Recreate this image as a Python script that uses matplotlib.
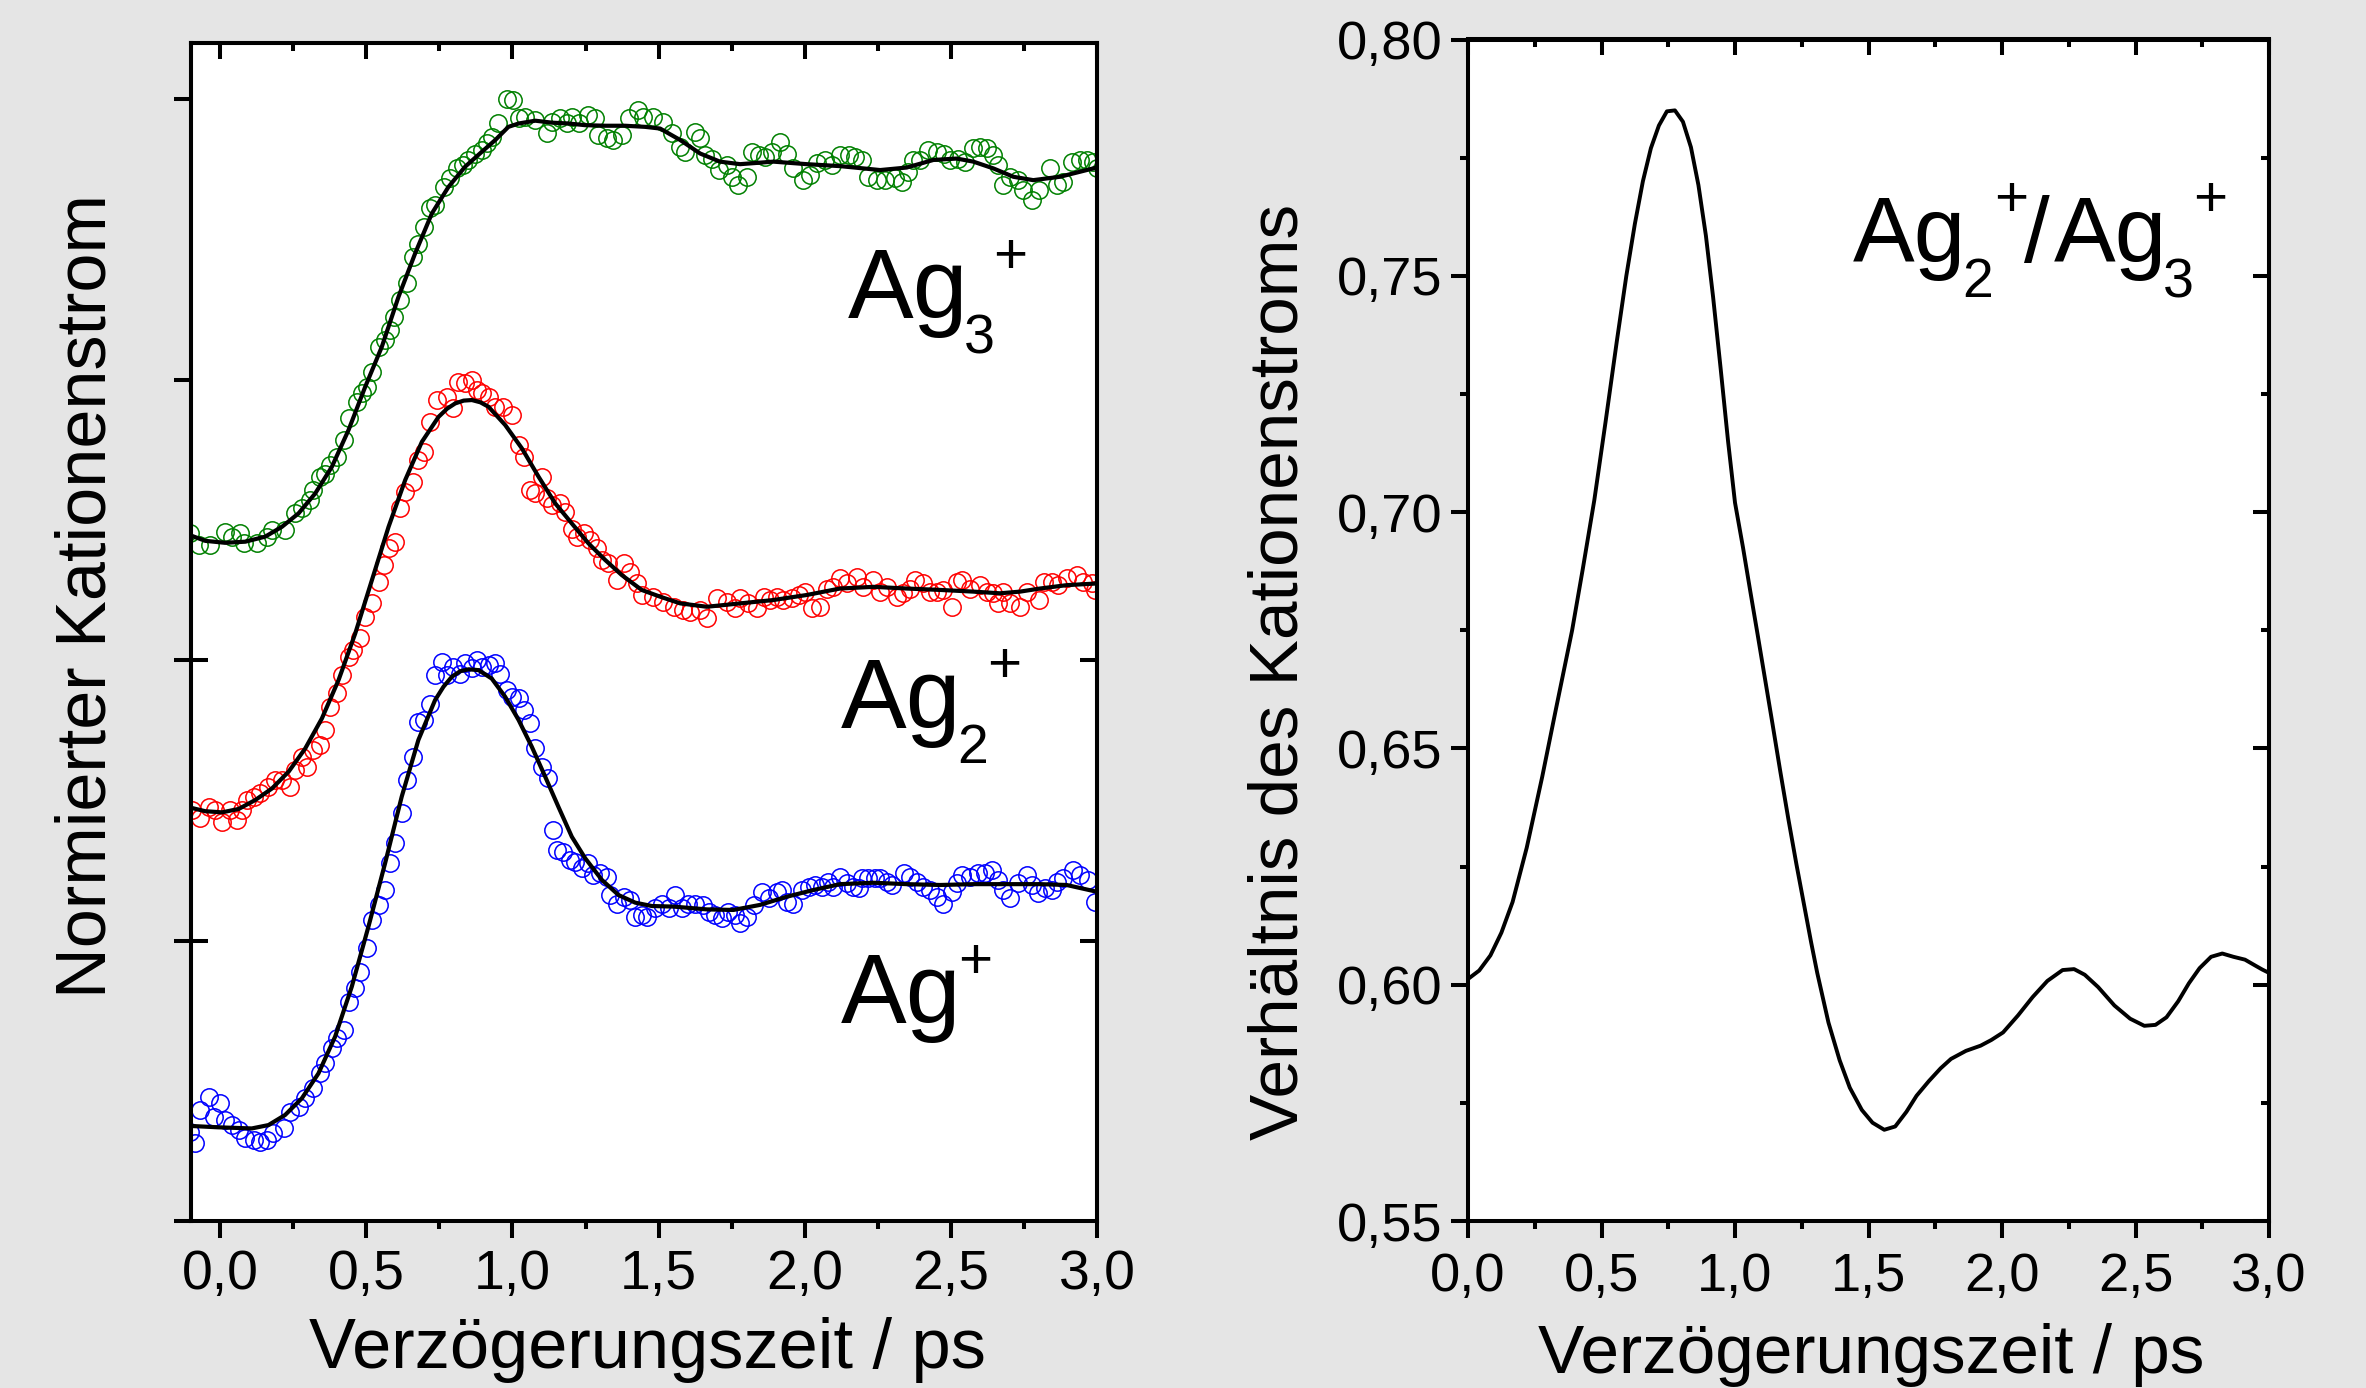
import numpy as np
import matplotlib
matplotlib.use('Agg')
import matplotlib.pyplot as plt
from matplotlib import font_manager
from matplotlib.ticker import MultipleLocator, FuncFormatter, NullFormatter, FixedLocator

# ---------------- data (left panel, normalised & offset cation signals) ----------------
ag3_t = [-0.103,-0.074,-0.034,0.017,0.040,0.068,0.080,0.125,0.160,0.177,0.222,0.257,0.279,0.308,0.319,
         0.342,0.359,0.376,0.399,0.422,0.439,0.468,0.485,0.502,0.519,0.542,0.564,0.582,0.593,0.616,
         0.639,0.661,0.678,0.696,0.718,0.735,0.764,0.787,0.810,0.832,0.849,0.872,0.895,0.912,0.929,
         0.952,0.981,1.003,1.021,1.043,1.078,1.117,1.135,1.163,1.186,1.203,1.226,1.260,1.283,1.294,
         1.323,1.345,1.374,1.397,1.431,1.448,1.482,1.516,1.545,1.574,1.591,1.625,1.642,1.659,1.682,
         1.705,1.733,1.750,1.773,1.802,1.819,1.842,1.864,1.887,1.916,1.938,1.961,1.995,2.018,2.041,
         2.070,2.092,2.121,2.150,2.172,2.195,2.218,2.246,2.275,2.309,2.332,2.355,2.372,2.395,2.423,
         2.452,2.475,2.497,2.526,2.549,2.577,2.600,2.623,2.645,2.662,2.680,2.702,2.731,2.748,2.777,
         2.800,2.839,2.862,2.885,2.913,2.942,2.965,2.988,2.999]
ag3_y = [2.452,2.410,2.410,2.457,2.440,2.452,2.416,2.416,2.440,2.463,2.463,2.523,2.541,2.570,2.606,
         2.654,2.665,2.695,2.725,2.784,2.862,2.921,2.951,2.974,3.028,3.117,3.141,3.176,3.224,3.283,
         3.343,3.438,3.485,3.545,3.610,3.622,3.687,3.717,3.753,3.765,3.783,3.806,3.818,3.842,3.866,
         3.913,4.002,3.996,3.931,3.937,3.925,3.878,3.919,3.931,3.913,3.937,3.913,3.943,3.931,3.872,
         3.860,3.854,3.872,3.931,3.961,3.937,3.937,3.919,3.878,3.830,3.812,3.883,3.860,3.800,3.788,
         3.747,3.765,3.723,3.693,3.723,3.812,3.800,3.794,3.812,3.848,3.806,3.753,3.711,3.729,3.771,
         3.783,3.765,3.800,3.800,3.794,3.783,3.723,3.711,3.711,3.717,3.705,3.741,3.783,3.783,3.818,
         3.812,3.806,3.783,3.788,3.777,3.824,3.830,3.824,3.800,3.765,3.693,3.723,3.711,3.676,3.640,
         3.676,3.753,3.693,3.705,3.777,3.783,3.783,3.777,3.753]
ag3_fit_t = [-0.103,-0.051,0.017,0.086,0.154,0.211,0.268,0.325,0.382,0.439,0.496,0.553,0.610,0.667,
             0.724,0.781,0.838,0.895,0.941,0.986,1.021,1.078,1.135,1.192,1.249,1.317,1.385,1.454,
             1.505,1.574,1.642,1.710,1.779,1.893,2.007,2.121,2.258,2.349,2.440,2.520,2.577,2.645,
             2.714,2.782,2.873,2.942,2.999]
ag3_fit_y = [2.445,2.425,2.418,2.422,2.440,2.475,2.523,2.594,2.689,2.820,2.974,3.117,3.295,3.450,
             3.592,3.687,3.759,3.812,3.854,3.901,3.913,3.923,3.916,3.913,3.907,3.905,3.905,3.901,
             3.895,3.854,3.806,3.777,3.768,3.777,3.768,3.761,3.747,3.756,3.783,3.788,3.777,3.753,
             3.723,3.711,3.723,3.741,3.756]

ag2_t = [-0.097,-0.068,-0.040,-0.017,0.006,0.034,0.057,0.074,0.091,0.114,0.137,0.165,0.188,0.211,
         0.239,0.257,0.279,0.296,0.319,0.342,0.359,0.376,0.399,0.416,0.439,0.456,0.479,0.496,0.519,
         0.542,0.559,0.576,0.599,0.616,0.633,0.661,0.678,0.696,0.718,0.741,0.775,0.798,0.815,0.838,
         0.861,0.878,0.895,0.918,0.941,0.969,0.998,1.021,1.038,1.060,1.078,1.100,1.117,1.135,1.163,
         1.180,1.203,1.220,1.243,1.266,1.288,1.306,1.328,1.357,1.380,1.403,1.425,1.442,1.482,1.516,
         1.551,1.585,1.608,1.642,1.665,1.699,1.733,1.762,1.779,1.807,1.836,1.859,1.881,1.904,1.927,
         1.956,1.979,2.001,2.024,2.053,2.075,2.098,2.121,2.144,2.178,2.201,2.235,2.258,2.280,2.315,
         2.337,2.360,2.377,2.406,2.429,2.452,2.474,2.503,2.520,2.537,2.565,2.600,2.623,2.645,2.662,
         2.680,2.702,2.737,2.760,2.800,2.817,2.845,2.868,2.896,2.930,2.953,2.982,2.993]
ag2_y = [1.465,1.436,1.477,1.465,1.424,1.465,1.430,1.465,1.501,1.513,1.525,1.548,1.572,1.572,
         1.548,1.608,1.655,1.620,1.679,1.697,1.750,1.834,1.881,1.947,2.012,2.036,2.077,2.154,2.202,
         2.279,2.339,2.398,2.422,2.541,2.600,2.636,2.713,2.743,2.850,2.927,2.939,2.897,2.992,2.986,
         2.998,2.963,2.951,2.939,2.903,2.903,2.873,2.766,2.725,2.606,2.594,2.654,2.576,2.553,2.559,
         2.529,2.469,2.440,2.452,2.428,2.398,2.357,2.345,2.285,2.345,2.315,2.273,2.232,2.226,2.208,
         2.190,2.178,2.172,2.178,2.149,2.220,2.208,2.184,2.220,2.202,2.184,2.226,2.214,2.226,2.214,
         2.220,2.232,2.244,2.184,2.190,2.255,2.261,2.291,2.273,2.297,2.261,2.285,2.244,2.261,2.226,
         2.238,2.255,2.285,2.273,2.244,2.244,2.250,2.190,2.279,2.285,2.255,2.267,2.244,2.238,2.202,
         2.244,2.202,2.190,2.244,2.214,2.279,2.279,2.267,2.291,2.303,2.279,2.273,2.250]
ag2_fit_t = [-0.103,-0.051,0.006,0.063,0.120,0.177,0.234,0.291,0.348,0.405,0.462,0.519,0.576,0.633,
             0.690,0.747,0.776,0.804,0.833,0.861,0.890,0.918,0.975,1.032,1.089,1.146,1.203,1.260,
             1.317,1.374,1.442,1.505,1.574,1.665,1.779,1.893,2.007,2.121,2.235,2.349,2.463,2.577,
             2.668,2.737,2.805,2.896,2.999]
ag2_fit_y = [1.474,1.461,1.457,1.469,1.501,1.542,1.602,1.685,1.792,1.929,2.095,2.285,2.475,2.642,
             2.778,2.867,2.896,2.915,2.925,2.927,2.919,2.903,2.838,2.755,2.654,2.559,2.487,2.416,
             2.357,2.303,2.250,2.226,2.202,2.190,2.202,2.214,2.232,2.255,2.261,2.255,2.250,2.244,
             2.238,2.244,2.255,2.267,2.273]

ag1_t = [-0.103,-0.086,-0.068,-0.040,-0.023,0.000,0.017,0.040,0.063,0.086,0.114,0.137,0.160,0.182,
         0.217,0.239,0.268,0.291,0.319,0.342,0.359,0.382,0.399,0.422,0.439,0.462,0.479,0.502,0.519,
         0.542,0.564,0.582,0.599,0.621,0.639,0.661,0.678,0.696,0.718,0.735,0.758,0.775,0.798,0.821,
         0.838,0.861,0.878,0.895,0.918,0.941,0.958,0.981,0.998,1.021,1.038,1.060,1.078,1.100,1.123,
         1.140,1.152,1.174,1.197,1.214,1.237,1.260,1.277,1.300,1.323,1.334,1.357,1.380,1.403,1.420,
         1.442,1.459,1.488,1.511,1.534,1.557,1.579,1.602,1.625,1.653,1.671,1.693,1.716,1.739,1.762,
         1.779,1.802,1.825,1.853,1.876,1.904,1.921,1.938,1.961,1.990,2.013,2.036,2.058,2.081,2.098,
         2.121,2.144,2.166,2.184,2.195,2.218,2.240,2.258,2.280,2.298,2.338,2.361,2.383,2.406,2.429,
         2.452,2.474,2.503,2.520,2.537,2.565,2.594,2.617,2.640,2.662,2.680,2.702,2.731,2.759,2.776,
         2.799,2.822,2.845,2.862,2.885,2.919,2.942,2.970,2.993]
ag1_y = [0.318,0.277,0.396,0.443,0.372,0.419,0.360,0.342,0.324,0.295,0.289,0.283,0.289,0.313,
         0.330,0.390,0.408,0.437,0.473,0.526,0.562,0.616,0.651,0.681,0.782,0.829,0.889,0.972,1.073,
         1.127,1.180,1.275,1.346,1.453,1.572,1.655,1.780,1.786,1.845,1.947,1.994,1.947,1.976,1.952,
         1.988,1.970,2.000,1.976,1.982,1.988,1.952,1.893,1.869,1.863,1.822,1.774,1.685,1.620,1.578,
         1.394,1.323,1.317,1.287,1.281,1.257,1.275,1.234,1.239,1.228,1.162,1.132,1.156,1.144,1.085,
         1.091,1.085,1.115,1.132,1.115,1.162,1.115,1.132,1.132,1.127,1.103,1.091,1.079,1.103,1.091,
         1.061,1.085,1.127,1.174,1.150,1.174,1.180,1.138,1.132,1.180,1.192,1.198,1.192,1.210,1.192,
         1.228,1.204,1.192,1.186,1.222,1.222,1.222,1.222,1.210,1.198,1.239,1.228,1.210,1.192,1.180,
         1.156,1.132,1.174,1.204,1.234,1.228,1.239,1.239,1.251,1.216,1.180,1.150,1.204,1.234,1.198,
         1.168,1.186,1.180,1.210,1.222,1.251,1.234,1.216,1.138]
ag1_fit_t = [-0.103,-0.006,0.108,0.165,0.222,0.279,0.336,0.393,0.450,0.507,0.564,0.621,0.678,0.735,
             0.764,0.793,0.821,0.850,0.884,0.929,0.975,1.021,1.066,1.112,1.157,1.203,1.249,1.306,
             1.363,1.420,1.477,1.551,1.665,1.756,1.847,1.938,2.029,2.121,2.235,2.349,2.463,2.577,
             2.691,2.805,2.896,2.999]
ag1_fit_y = [0.339,0.334,0.330,0.342,0.378,0.437,0.526,0.657,0.835,1.049,1.275,1.513,1.715,1.857,
             1.905,1.941,1.960,1.967,1.964,1.934,1.869,1.786,1.691,1.584,1.477,1.370,1.293,1.216,
             1.162,1.135,1.123,1.121,1.111,1.109,1.127,1.156,1.180,1.201,1.206,1.201,1.198,1.201,
             1.201,1.201,1.198,1.174]

# ---------------- data (right panel, ratio Ag2+/Ag3+) ----------------
ratio_t = [0.000,0.042,0.084,0.125,0.167,0.220,0.278,0.330,0.390,0.430,0.473,0.515,0.557,0.593,
           0.625,0.655,0.685,0.715,0.745,0.775,0.805,0.835,0.863,0.891,0.918,0.946,0.974,1.000,
           1.030,1.058,1.085,1.113,1.141,1.170,1.200,1.230,1.260,1.285,1.308,1.350,1.392,1.430,
           1.475,1.515,1.559,1.600,1.642,1.680,1.726,1.770,1.809,1.865,1.920,1.960,2.004,2.060,
           2.115,2.170,2.227,2.270,2.310,2.360,2.421,2.480,2.533,2.575,2.616,2.660,2.700,2.740,
           2.783,2.825,2.867,2.910,2.950,2.975,3.000]
ratio_y = [0.6012,0.6030,0.6062,0.6110,0.6175,0.6290,0.6440,0.6585,0.6750,0.6880,0.7025,0.7190,
           0.7360,0.7500,0.7610,0.7700,0.7770,0.7818,0.7848,0.7850,0.7826,0.7772,0.7692,0.7585,
           0.7455,0.7305,0.7150,0.7020,0.6925,0.6830,0.6740,0.6645,0.6550,0.6450,0.6350,0.6255,
           0.6165,0.6090,0.6025,0.5920,0.5840,0.5782,0.5735,0.5708,0.5693,0.5700,0.5731,0.5765,
           0.5796,0.5823,0.5843,0.5860,0.5871,0.5883,0.5899,0.5935,0.5974,0.6008,0.6031,0.6033,
           0.6021,0.5995,0.5956,0.5928,0.5913,0.5915,0.5931,0.5965,0.6003,0.6035,0.6059,0.6066,
           0.6059,0.6053,0.6040,0.6032,0.6025]

x_major = [0.0, 0.5, 1.0, 1.5, 2.0, 2.5, 3.0]
ratio_ticks = [0.55, 0.60, 0.65, 0.70, 0.75, 0.80]

# ---------------- figure ----------------
W, H = 2366, 1388
BG = '#e5e5e5'
fig = plt.figure(figsize=(W / 100, H / 100), dpi=100, facecolor=BG)
renderer = fig.canvas.get_renderer()

names = {f.name for f in font_manager.fontManager.ttflist}
REG = 'Liberation Sans' if 'Liberation Sans' in names else 'DejaVu Sans'
NARROW = REG
for cand in ('Liberation Sans Narrow', 'Arial Narrow'):
    if cand in names:
        NARROW = cand
        break
# the reference text is horizontally condensed; without a narrow face,
# compromise slightly between matching width and matching height
GROW = 1.0 if NARROW != REG else 1.03


def fit_fs(s, target_px, family, grow=1.0):
    t = fig.text(0, 0, s, fontsize=50, family=family)
    w = t.get_window_extent(renderer).width
    t.remove()
    return 50.0 * target_px / w * grow


def ftext(x, y, s, **kw):
    return fig.text(x / W, 1 - y / H, s, **kw)


LW = 2.9
MAJ, MIN = 12.0, 6.0

axL = fig.add_axes([191 / W, 1 - 1221 / H, (1097 - 191) / W, (1221 - 43) / H])
axR = fig.add_axes([1468 / W, 1 - 1221 / H, (2269 - 1468) / W, (1221 - 39.5) / H])

for ax in (axL, axR):
    ax.set_facecolor('white')
    for sp in ax.spines.values():
        sp.set_linewidth(LW)

comma = FuncFormatter(lambda v, p: ('%.1f' % v).replace('.', ','))
comma2 = FuncFormatter(lambda v, p: ('%.2f' % v).replace('.', ','))

# ---------- left panel ----------
series = [(ag3_t, ag3_y, ag3_fit_t, ag3_fit_y, '#008000'),
          (ag2_t, ag2_y, ag2_fit_t, ag2_fit_y, '#ff0000'),
          (ag1_t, ag1_y, ag1_fit_t, ag1_fit_y, '#0000ff')]
for t, y, ft, fy_, c in series:
    axL.plot(t, y, ls='none', marker='o', ms=12.5, mfc='none', mec=c, mew=1.1, zorder=2)
    axL.plot(ft, fy_, color='black', lw=3.0, zorder=3, solid_joinstyle='round')

axL.set_xlim(-0.1, 3.0)
axL.set_ylim(0, 4.2)
axL.xaxis.set_major_locator(FixedLocator(x_major))
axL.xaxis.set_minor_locator(MultipleLocator(0.25))
axL.xaxis.set_major_formatter(comma)
axL.set_yticks([0, 1, 2, 3, 4])
axL.yaxis.set_major_formatter(NullFormatter())
fsL = fit_fs('0,5', 75, NARROW, GROW)
axL.tick_params(axis='x', which='major', direction='out', length=MAJ, width=LW,
                labelsize=fsL, pad=8, top=False)
axL.tick_params(axis='x', which='minor', direction='out', length=MIN, width=LW, top=False)
axL.tick_params(axis='y', which='major', direction='out', length=MAJ, width=LW, right=False)
for lab in axL.get_xticklabels():
    lab.set_family(NARROW)
# inward ticks on top
secT = axL.secondary_xaxis('top')
secT.xaxis.set_major_locator(FixedLocator(x_major))
secT.xaxis.set_minor_locator(MultipleLocator(0.25))
secT.tick_params(which='major', direction='in', length=MAJ * 0.95, width=LW, labeltop=False)
secT.tick_params(which='minor', direction='in', length=MIN, width=LW, labeltop=False)
secT.spines['top'].set_linewidth(LW)
# inward ticks at 1 and 2 on both y sides
sL = axL.secondary_yaxis('left')
sL.yaxis.set_major_locator(FixedLocator([1, 2]))
sL.tick_params(which='major', direction='in', length=MAJ, width=LW, labelleft=False)
sL.spines['left'].set_linewidth(LW)
sRt = axL.secondary_yaxis('right')
sRt.yaxis.set_major_locator(FixedLocator([1, 2]))
sRt.tick_params(which='major', direction='in', length=MAJ, width=LW, labelright=False)
sRt.spines['right'].set_linewidth(LW)

# ---------- right panel ----------
axR.plot(ratio_t, ratio_y, color='black', lw=2.8, solid_joinstyle='round')
axR.set_xlim(0, 3.0)
axR.set_ylim(0.55, 0.80)
axR.xaxis.set_major_locator(FixedLocator(x_major))
axR.xaxis.set_minor_locator(MultipleLocator(0.25))
axR.xaxis.set_major_formatter(comma)
axR.yaxis.set_major_locator(FixedLocator(ratio_ticks))
axR.yaxis.set_minor_locator(MultipleLocator(0.025))
axR.yaxis.set_major_formatter(comma2)
fsR = fit_fs('0,55', 106, REG)
axR.tick_params(which='major', direction='out', length=MAJ, width=LW, labelsize=fsR,
                top=False, right=False)
axR.tick_params(which='minor', direction='out', length=MIN, width=LW, top=False, right=False)
axR.tick_params(axis='x', which='major', pad=10)
axR.tick_params(axis='y', which='major', pad=6.5)
for lab in axR.get_xticklabels() + axR.get_yticklabels():
    lab.set_family(REG)
sRT = axR.secondary_xaxis('top')
sRT.xaxis.set_major_locator(FixedLocator(x_major))
sRT.xaxis.set_minor_locator(MultipleLocator(0.25))
sRT.tick_params(which='major', direction='in', length=MAJ * 0.95, width=LW, labeltop=False)
sRT.tick_params(which='minor', direction='in', length=MIN, width=LW, labeltop=False)
sRT.spines['top'].set_linewidth(LW)
sRR = axR.secondary_yaxis('right')
sRR.yaxis.set_major_locator(FixedLocator(ratio_ticks))
sRR.yaxis.set_minor_locator(MultipleLocator(0.025))
sRR.tick_params(which='major', direction='in', length=MAJ * 0.95, width=LW, labelright=False)
sRR.tick_params(which='minor', direction='in', length=MIN, width=LW, labelright=False)
sRR.spines['right'].set_linewidth(LW)

# ---------- axis labels ----------
xl_text = 'Verzögerungszeit / ps'
ftext(647, 1368, xl_text, ha='center', va='baseline', family=NARROW,
      fontsize=fit_fs(xl_text, 658, NARROW, GROW))
ftext(1871, 1373, xl_text, ha='center', va='baseline', family=REG,
      fontsize=fit_fs(xl_text, 655, REG, 1.02))
yl1 = 'Normierter Kationenstrom'
ftext(106, 596, yl1, ha='center', va='baseline', rotation=90, rotation_mode='anchor',
      family=NARROW, fontsize=fit_fs(yl1, 782, NARROW, GROW))
yl2 = 'Verhältnis des Kationenstroms'
ftext(1297, 672, yl2, ha='center', va='baseline', rotation=90, rotation_mode='anchor',
      family=NARROW, fontsize=fit_fs(yl2, 910, NARROW, GROW))

# ---------- species labels ----------
fsAg = fit_fs('Ag', 117, NARROW, GROW)
SUB_FS = 40
PLUS_FS = 42
plus_shift = 0.353 * PLUS_FS * 100 / 72.0


def species(x, base_y, sub_x, sub, plus_cx, plus_cy):
    ftext(x, base_y, 'Ag', ha='left', va='baseline', family=NARROW, fontsize=fsAg)
    if sub:
        ftext(sub_x, base_y + 35, sub, ha='left', va='baseline', family=REG, fontsize=SUB_FS)
    ftext(plus_cx, plus_cy + plus_shift, '+', ha='center', va='baseline', family=REG,
          fontsize=PLUS_FS)


species(848, 318, 964, '3', 1010, 252)
species(841, 728, 957, '2', 1004, 661)
species(841, 1023, None, None, 975, 957)

# ratio label
fsAg2 = fit_fs('Ag', 110, NARROW, GROW)
ftext(1853, 262, 'Ag', ha='left', va='baseline', family=NARROW, fontsize=fsAg2)
ftext(1962, 297, '2', ha='left', va='baseline', family=REG, fontsize=SUB_FS)
ftext(2011, 195 + plus_shift, '+', ha='center', va='baseline', family=REG, fontsize=PLUS_FS)
ftext(2024, 262, '/', ha='left', va='baseline', family=NARROW, fontsize=fsAg2)
ftext(2054, 262, 'Ag', ha='left', va='baseline', family=NARROW, fontsize=fsAg2)
ftext(2163, 297, '3', ha='left', va='baseline', family=REG, fontsize=SUB_FS)
ftext(2210, 195 + plus_shift, '+', ha='center', va='baseline', family=REG, fontsize=PLUS_FS)

fig.savefig('out.png', dpi=100, facecolor=BG)
